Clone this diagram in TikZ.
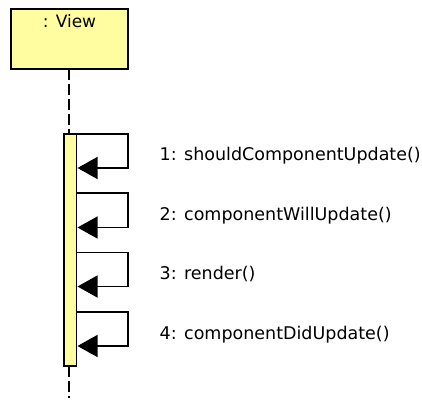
\documentclass[tikz,border=0pt]{standalone}
\usepackage{fontspec}
\setmainfont{DejaVu Sans}
\usetikzlibrary{arrows.meta}
\definecolor{umlfill}{HTML}{FFFD9F}
\tikzset{
  x=1pt, y=-1pt,
  objbox/.style={draw=black, fill=umlfill, line width=1.4pt},
  actbar/.style={draw=black, fill=umlfill, line width=1.4pt},
  lifeline/.style={line width=1.4pt, dash pattern=on 11pt off 4pt},
  selfcall/.style={line width=1.4pt, -{Triangle[length=20pt, width=22pt]}},
  msglabel/.style={anchor=base west, inner sep=0pt, font=\fontsize{17.5}{21}\selectfont},
}
\begin{document}
\begin{tikzpicture}
  \useasboundingbox (0,0) rectangle (422,403);
  % object head
  \path[objbox] (11,9) rectangle (128,69);
  \node[inner sep=0pt, anchor=base, font=\fontsize{17}{20}\selectfont] (view) at (69.5,28) {: View};
  \coordinate (headbottom) at (69,69);
  % activation bar
  \path[actbar] (64,134) rectangle (76.5,366);
  \coordinate (bartop) at (69,134);
  \coordinate (barbot) at (69,366);
  \coordinate (lifeend) at (69,398);
  \draw[lifeline] (headbottom) -- (bartop);
  \draw[lifeline] (barbot) -- (lifeend);
  % self calls
  \foreach \i/\top/\bot/\txt in {
      1/134/168/{1: shouldComponentUpdate()},
      2/193/227.5/{2: componentWillUpdate()},
      3/252.5/286.5/{3: render()},
      4/312/346/{4: componentDidUpdate()}}{
    \coordinate (s\i) at (76.5,\top);
    \coordinate (e\i) at (77.5,\bot);
    \draw[selfcall] (s\i) -| (128,\bot) -- (e\i);
    \node[msglabel] (m\i) at (159.5,{(\top+\bot)/2+10}) {\txt};
  }
\end{tikzpicture}
\end{document}
